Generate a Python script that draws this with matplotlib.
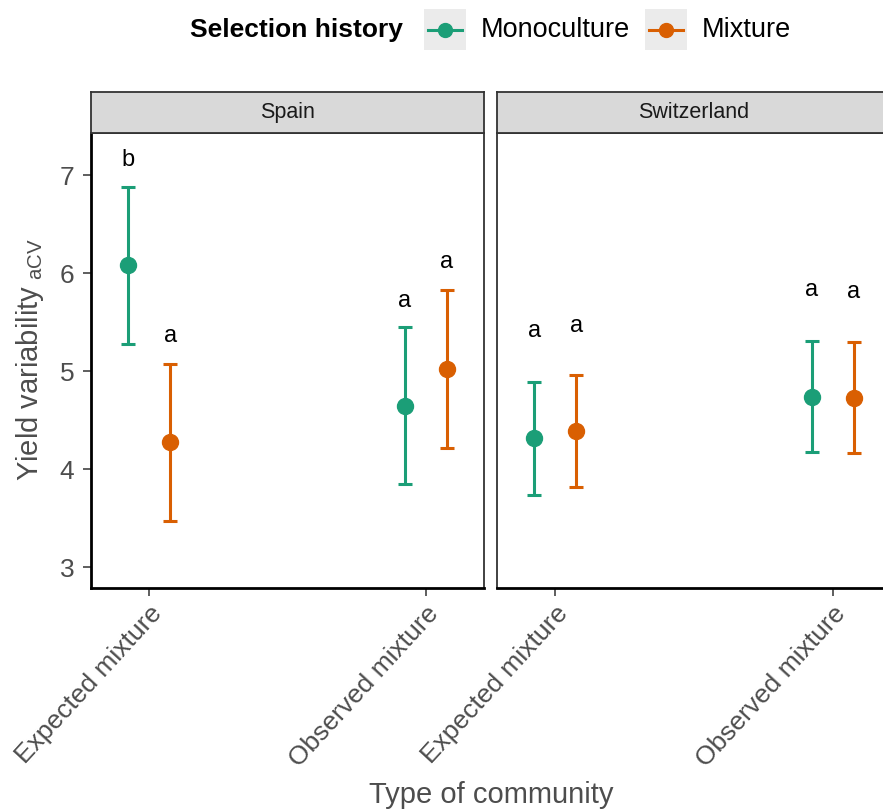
import matplotlib
matplotlib.use("Agg")
import matplotlib.pyplot as plt
from matplotlib.lines import Line2D
from matplotlib.patches import Rectangle

plt.rcParams['font.family'] = ['Liberation Sans', 'DejaVu Sans']
plt.rcParams['mathtext.fontset'] = 'custom'
plt.rcParams['mathtext.rm'] = 'Liberation Sans'

# data
panels = ["Spain", "Switzerland"]
communities = ["Expected mixture", "Observed mixture"]
groups = ["Monoculture", "Mixture"]
colors = {"Monoculture": "#1B9E77", "Mixture": "#D95F02"}

# mean, lower, upper per panel -> group -> community
means = {
    "Spain": {"Monoculture": [6.08, 4.64], "Mixture": [4.28, 5.02]},
    "Switzerland": {"Monoculture": [4.32, 4.74], "Mixture": [4.39, 4.73]},
}
lower = {
    "Spain": {"Monoculture": [5.28, 3.85], "Mixture": [3.47, 4.22]},
    "Switzerland": {"Monoculture": [3.74, 4.17], "Mixture": [3.82, 4.16]},
}
upper = {
    "Spain": {"Monoculture": [6.88, 5.45], "Mixture": [5.07, 5.83]},
    "Switzerland": {"Monoculture": [4.89, 5.31], "Mixture": [4.96, 5.30]},
}
letters = {
    "Spain": {"Monoculture": ["b", "a"], "Mixture": ["a", "a"]},
    "Switzerland": {"Monoculture": ["a", "a"], "Mixture": ["a", "a"]},
}
letter_y = {
    "Spain": {"Monoculture": [7.15, 5.72], "Mixture": [5.36, 6.11]},
    "Switzerland": {"Monoculture": [5.41, 5.83], "Mixture": [5.46, 5.81]},
}
y_ticks = [3, 4, 5, 6, 7]

W, H = 883, 811
fig = plt.figure(figsize=(W / 100, H / 100), dpi=100)

def fx(px):
    return px / W

def fy(py):
    return 1 - py / H

panel_left = [91, 497]
panel_right = [484, 891]
top, bottom, strip_top = 133, 588, 92
dodge = 0.076
grey30 = "#4D4D4D"

for i, pan in enumerate(panels):
    l, r = panel_left[i], panel_right[i]
    ax = fig.add_axes([fx(l), fy(bottom), fx(r - l), (bottom - top) / H])
    for j, g in enumerate(groups):
        off = -dodge if j == 0 else dodge
        xs = [k + 1 + off for k in range(len(communities))]
        m = means[pan][g]
        lo = [m[k] - lower[pan][g][k] for k in range(len(m))]
        hi = [upper[pan][g][k] - m[k] for k in range(len(m))]
        ax.errorbar(xs, m, yerr=[lo, hi], fmt='o', color=colors[g],
                    ms=11.5, elinewidth=2.2, capsize=4.8, capthick=2.2, zorder=3)
        for k in range(len(m)):
            ax.text(xs[k], letter_y[pan][g][k], letters[pan][g][k],
                    ha='center', va='center', fontsize=17, color='black')
    ax.set_xlim(0.79, 2.21)
    ax.set_ylim(2.786, 7.43)
    ax.set_xticks([1, 2])
    ax.set_xticklabels(communities, rotation=47.5, ha='right',
                       rotation_mode='anchor', fontsize=19, color=grey30)
    ax.set_yticks(y_ticks)
    ax.tick_params(axis='both', length=6, width=1.1, color='#333333')
    ax.tick_params(axis='y', pad=6)
    for s in ax.spines.values():
        s.set_color('#333333')
        s.set_linewidth(1.3)
    ax.spines['bottom'].set_color('black')
    ax.spines['bottom'].set_linewidth(2)
    if i == 0:
        ax.spines['left'].set_color('black')
        ax.spines['left'].set_linewidth(2)
        ax.set_yticklabels([str(t) for t in y_ticks], fontsize=19, color=grey30)
    else:
        ax.tick_params(axis='y', left=False, labelleft=False)

    # facet strip
    sax = fig.add_axes([fx(l), fy(top), fx(r - l), (top - strip_top) / H])
    sax.set_facecolor('#D9D9D9')
    sax.set_xticks([])
    sax.set_yticks([])
    for s in sax.spines.values():
        s.set_color('#333333')
        s.set_linewidth(1.3)
    sax.text(0.5, 0.5, pan, transform=sax.transAxes, ha='center', va='center',
             fontsize=15.5, color='#1A1A1A')

# axis titles
fig.text(fx(30), fy(360), r'Yield variability$_{\mathrm{\ aCV}}$', rotation=90,
         ha='center', va='center', fontsize=21, color=grey30)
fig.text(fx(491), fy(795), 'Type of community', ha='center', va='center',
         fontsize=21, color=grey30)

# legend on top
fig.text(fx(190), fy(30), 'Selection history', ha='left', va='center',
         fontsize=19, fontweight='bold')
key_left = [424, 645]
label_left = [481, 702]
for j, g in enumerate(groups):
    kl = key_left[j]
    fig.patches.append(Rectangle((fx(kl), fy(50)), fx(42), 41 / H,
                                 transform=fig.transFigure, facecolor='#EBEBEB',
                                 edgecolor='none'))
    fig.lines.append(Line2D([fx(kl + 4), fx(kl + 38)], [fy(30), fy(30)],
                            transform=fig.transFigure, color=colors[g], lw=2.2))
    fig.lines.append(Line2D([fx(kl + 21)], [fy(30)], transform=fig.transFigure,
                            marker='o', ms=10, color=colors[g]))
    fig.text(fx(label_left[j]), fy(30), g, ha='left', va='center', fontsize=19.5)

plt.savefig("out.png", dpi=100)
